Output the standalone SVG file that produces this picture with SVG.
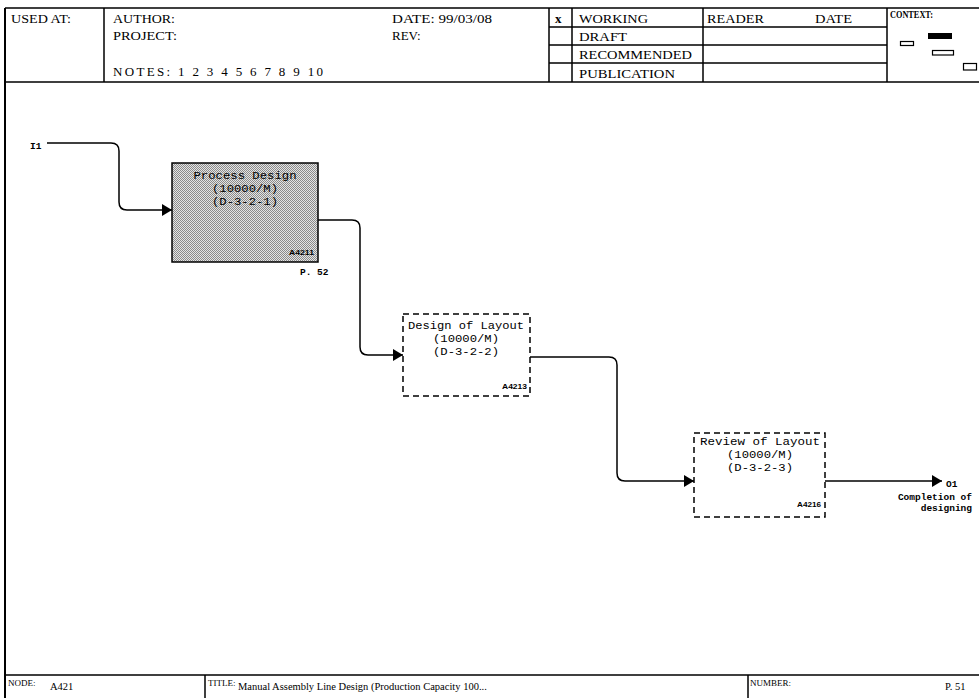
<svg xmlns="http://www.w3.org/2000/svg" width="979" height="698" viewBox="0 0 979 698">
<style>
.frame{stroke:#000;stroke-width:1.5;fill:none}
.hd{font-family:"Liberation Serif",serif;font-size:13px;fill:#000}
.ft{font-family:"Liberation Serif",serif;font-size:10.5px;fill:#000}
.fl{font-family:"Liberation Serif",serif;font-size:9px;fill:#000}
.box{fill:#fff;stroke:#000;stroke-width:1.5;stroke-dasharray:6,4}
.lbl{font-family:"Liberation Mono",monospace;font-size:11.5px;fill:#000;text-anchor:middle}
.tag{font-family:"Liberation Sans",sans-serif;font-size:8px;font-weight:bold;fill:#000}
.ext{font-family:"Liberation Mono",monospace;font-size:9.5px;font-weight:bold;fill:#000}
.conn{fill:none;stroke:#000;stroke-width:1.5}
</style>
<defs>
<pattern id="dither" width="2" height="2" patternUnits="userSpaceOnUse">
<rect width="2" height="2" fill="#e4e4e4"/>
<rect x="0" y="0" width="1" height="1" fill="#8a8a8a"/>
<rect x="1" y="1" width="1" height="1" fill="#8a8a8a"/>
</pattern>
<marker id="arr" markerUnits="userSpaceOnUse" markerWidth="12" markerHeight="12" refX="10" refY="6" orient="auto">
<path d="M0,0 L10,6 L0,12 Z" fill="#000"/>
</marker>
</defs>
<rect width="979" height="698" fill="#fff"/>
<g id="header">
<path class="frame" d="M5,8 H979 M5,82 H979 M104,8 V82 M549,8 V82 M572,8 V82 M703,8 V82 M887,8 V82 M549,27 H887 M549,45 H887 M549,63 H887"/>
<path d="M5,8 V698" stroke="#000" stroke-width="2"/>
<text class="hd" x="11" y="23" textLength="60" lengthAdjust="spacingAndGlyphs">USED AT:</text>
<text class="hd" x="113" y="23" textLength="62" lengthAdjust="spacingAndGlyphs">AUTHOR:</text>
<text class="hd" x="113" y="40" textLength="64" lengthAdjust="spacingAndGlyphs">PROJECT:</text>
<text class="hd" x="113" y="76" textLength="210" lengthAdjust="spacing">NOTES: 1 2 3 4 5 6 7 8 9 10</text>
<text class="hd" x="392" y="23" textLength="100" lengthAdjust="spacingAndGlyphs">DATE: 99/03/08</text>
<text class="hd" x="392" y="40">REV:</text>
<text class="hd" x="555" y="23" font-weight="bold">x</text>
<text class="hd" x="579" y="23" textLength="69" lengthAdjust="spacingAndGlyphs">WORKING</text>
<text class="hd" x="579" y="41" textLength="48" lengthAdjust="spacingAndGlyphs">DRAFT</text>
<text class="hd" x="579" y="59" textLength="113" lengthAdjust="spacingAndGlyphs">RECOMMENDED</text>
<text class="hd" x="579" y="78" textLength="96" lengthAdjust="spacingAndGlyphs">PUBLICATION</text>
<text class="hd" x="707" y="23" textLength="57" lengthAdjust="spacingAndGlyphs">READER</text>
<text class="hd" x="815" y="23" textLength="37" lengthAdjust="spacingAndGlyphs">DATE</text>
<text x="890" y="18" font-family="Liberation Serif, serif" font-size="9.5" font-weight="bold" textLength="43" lengthAdjust="spacingAndGlyphs">CONTEXT:</text>
<rect x="900.5" y="41.5" width="13" height="4" fill="none" stroke="#000" stroke-width="1.2"/>
<rect x="928" y="33" width="24" height="6" fill="#000"/>
<rect x="932.5" y="50.5" width="21" height="4.5" fill="none" stroke="#000" stroke-width="1.2"/>
<rect x="963.5" y="63.5" width="13" height="6.5" fill="none" stroke="#000" stroke-width="1.2"/>
</g>
<g id="connectors">
<path class="conn" d="M47,143 H111 Q119,143 119,151 V202 Q119,210 127,210 H172" marker-end="url(#arr)"/>
<path class="conn" d="M318,220 H352 Q360,220 360,228 V347 Q360,355 368,355 H403" marker-end="url(#arr)"/>
<path class="conn" d="M530,357 H609 Q617,357 617,365 V473 Q617,481 625,481 H694" marker-end="url(#arr)"/>
<path class="conn" d="M825,481 H942" marker-end="url(#arr)"/>
</g>
<g id="I1">
<text class="ext" x="30" y="149">I1</text>
</g>
<g id="O1">
<text class="ext" x="946" y="487">O1</text>
<text class="ext" x="972" y="500" text-anchor="end">Completion of</text>
<text class="ext" x="972" y="511" text-anchor="end">designing</text>
</g>
<g id="A4211">
<rect x="172" y="163" width="146" height="99" fill="url(#dither)" stroke="#000" stroke-width="1.5"/>
<text class="lbl" x="245" y="179" textLength="103" lengthAdjust="spacingAndGlyphs">Process Design</text>
<text class="lbl" x="245" y="192" textLength="66" lengthAdjust="spacingAndGlyphs">(10000/M)</text>
<text class="lbl" x="245" y="205" textLength="66" lengthAdjust="spacingAndGlyphs">(D-3-2-1)</text>
<text class="tag" x="289" y="255" textLength="25" lengthAdjust="spacingAndGlyphs">A4211</text>
<text class="ext" x="300" y="275">P. 52</text>
</g>
<g id="A4213">
<rect class="box" x="403" y="314" width="127" height="82"/>
<text class="lbl" x="466" y="329" textLength="116" lengthAdjust="spacingAndGlyphs">Design of Layout</text>
<text class="lbl" x="466" y="342" textLength="66" lengthAdjust="spacingAndGlyphs">(10000/M)</text>
<text class="lbl" x="466" y="355" textLength="66" lengthAdjust="spacingAndGlyphs">(D-3-2-2)</text>
<text class="tag" x="502" y="389" textLength="25" lengthAdjust="spacingAndGlyphs">A4213</text>
</g>
<g id="A4216">
<rect class="box" x="694" y="433" width="131" height="84"/>
<text class="lbl" x="760" y="445" textLength="120" lengthAdjust="spacingAndGlyphs">Review of Layout</text>
<text class="lbl" x="760" y="458" textLength="66" lengthAdjust="spacingAndGlyphs">(10000/M)</text>
<text class="lbl" x="760" y="471" textLength="66" lengthAdjust="spacingAndGlyphs">(D-3-2-3)</text>
<text class="tag" x="797" y="507" textLength="24" lengthAdjust="spacingAndGlyphs">A4216</text>
</g>
<g id="footer">
<path class="frame" d="M5,675 H979 M205,675 V698 M748,675 V698"/>
<text class="fl" x="8" y="686">NODE:</text>
<text class="ft" x="50" y="690" font-size="11">A421</text>
<text class="fl" x="208" y="686">TITLE:</text>
<text class="ft" x="238" y="690">Manual Assembly Line Design (Production Capacity 100...</text>
<text class="fl" x="750" y="686">NUMBER:</text>
<text class="ft" x="945" y="690" font-size="11">P. 51</text>
</g>
</svg>
